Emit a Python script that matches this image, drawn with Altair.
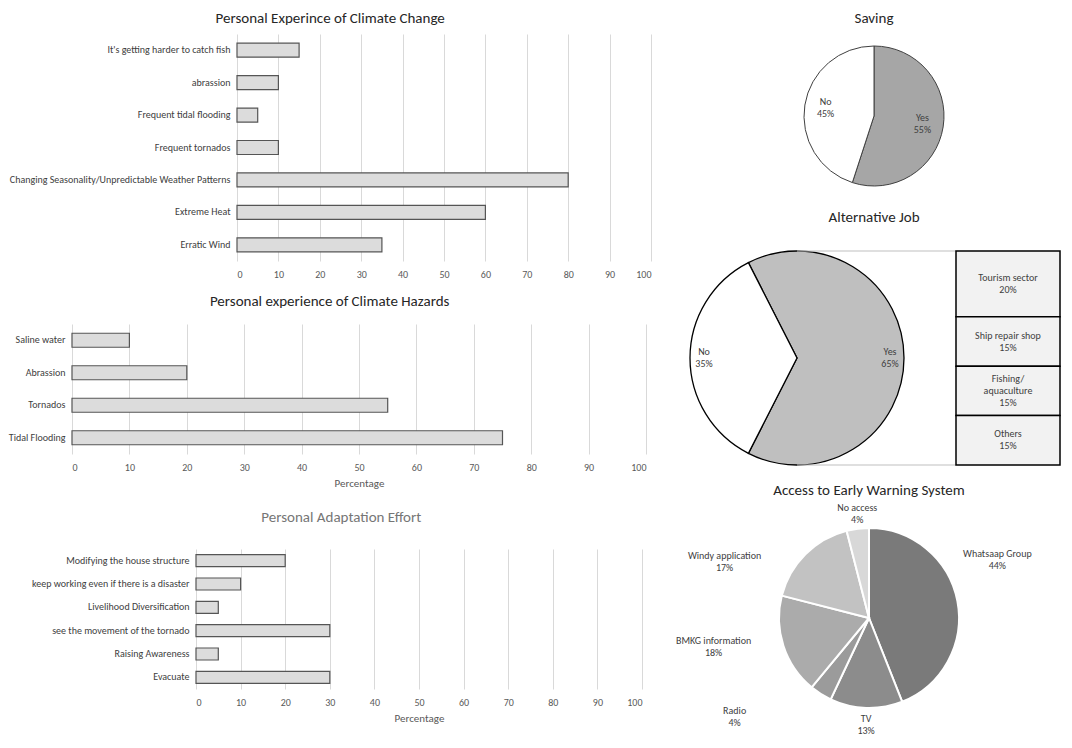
import math
import altair as alt
import pandas as pd

FONT = "Carlito, Liberation Sans Narrow, Lato, sans-serif"

# ---------------- data ----------------
cc_labels = ["It's getting harder to catch fish", "abrassion", "Frequent tidal flooding",
             "Frequent tornados", "Changing Seasonality/Unpredictable Weather Patterns",
             "Extreme Heat", "Erratic Wind"]
cc_values = [15, 10, 5, 10, 80, 60, 35]

hz_labels = ["Saline water", "Abrassion", "Tornados", "Tidal Flooding"]
hz_values = [10, 20, 55, 75]

ad_labels = ["Modifying the house structure", "keep working even if there is a disaster",
             "Livelihood Diversification", "see the movement of the tornado",
             "Raising Awareness", "Evacuate"]
ad_values = [20, 10, 5, 30, 5, 30]

pct_ticks = [0, 10, 20, 30, 40, 50, 60, 70, 80, 90, 100]

saving_labels = ["Yes", "No"]
saving_values = [55, 45]

job_labels = ["Yes", "No"]
job_values = [65, 35]

job_detail_labels = ["Tourism sector", "Ship repair shop", "Fishing/\naquaculture", "Others"]
job_detail_values = [20, 15, 15, 15]

ews_labels = ["Whatsaap Group", "TV", "Radio", "BMKG information", "Windy application", "No access"]
ews_values = [44, 13, 4, 18, 17, 4]

# ---------------- styles ----------------
BAR_FILL = "#dcdcdc"
BAR_STROKE = "#555555"
GRID = "#d9d9d9"
LABEL = "#404040"
TICKC = "#595959"
TITLEC = "#262626"
LEFT_W = 579
LH = 12


def ttl(text, offset, color=TITLEC, frame="bounds"):
    return alt.TitleParams(text=text, fontSize=15, font=FONT, color=color, fontWeight="normal",
                           anchor="middle", frame=frame, offset=offset)


def hbar(labels, values, title, rng, height, size, title_offset, title_color=TITLEC, axis_title=""):
    df = pd.DataFrame({"label": labels, "value": values})
    xa = dict(values=pct_ticks, grid=True, gridColor=GRID, gridWidth=1, domain=False, ticks=False,
              labelPadding=8, labelFontSize=10, labelColor=TICKC, labelFont=FONT)
    if axis_title:
        xa.update(title=axis_title, titleFontSize=11, titleFontWeight="normal", titleColor=TICKC,
                  titlePadding=5, titleFont=FONT)
    else:
        xa.update(title="")
    return alt.Chart(df).mark_bar(fill=BAR_FILL, stroke=BAR_STROKE, strokeWidth=1.2, size=size).encode(
        x=alt.X("value:Q", scale=alt.Scale(domain=[0, 100], range=rng), axis=alt.Axis(**xa)),
        y=alt.Y("label:N", sort=labels, title=None,
                axis=alt.Axis(domain=False, ticks=False, offset=-rng[0], labelPadding=7,
                              labelFontSize=10, labelColor=LABEL, labelLimit=400, labelFont=FONT)),
    ).properties(width=LEFT_W, height=height, title=ttl(title, title_offset, title_color))


p1 = hbar(cc_labels, cc_values, "Personal Experince of Climate Change", [165, 579], 227, 14, 8)
p2 = hbar(hz_labels, hz_values, "Personal experience of Climate Hazards", [0, 574], 130, 14, 15,
          axis_title="Percentage")
p3 = hbar(ad_labels, ad_values, "Personal Adaptation Effort", [124, 570], 140, 12, 24,
          title_color="#767676", axis_title="Percentage")

left = alt.vconcat(alt.vconcat(p1, p2, spacing=15), p3, spacing=22)


def pie_df(labels, values):
    texts = [f"{l}\n{v}%" for l, v in zip(labels, values)]
    return pd.DataFrame({"label": labels, "value": values, "idx": list(range(len(labels))),
                         "text": texts, "nl": [t.count("\n") + 1 for t in texts]})


def ml_text(base, df, encode_kw, baseline="middle", dy=0, **mark_kw):
    """one text layer per line count, shifted so the whole block sits on its anchor"""
    k = {"middle": 0.5, "bottom": 1.0, "top": 0.0}[baseline]
    out = []
    for n in sorted(set(df["nl"])):
        out.append(base.transform_filter(f"datum.nl == {n}").mark_text(
            baseline=baseline, lineBreak="\n", lineHeight=LH, fontSize=10, color=LABEL, font=FONT,
            dy=dy - (n - 1) * LH * k, **mark_kw).encode(**encode_kw))
    return out


# Saving
sdf = pie_df(saving_labels, saving_values)
s_base = alt.Chart(sdf).encode(theta=alt.Theta("value:Q", stack=True), order=alt.Order("idx:Q"))
s_arc = s_base.mark_arc(outerRadius=70, stroke="#404040", strokeWidth=1).encode(
    color=alt.Color("label:N", scale=alt.Scale(domain=saving_labels, range=["#a6a6a6", "#ffffff"]),
                    legend=None))
s_txt = s_base.mark_text(radius=49, fontSize=10, lineBreak="\n", lineHeight=LH, dy=-LH / 2,
                         color=LABEL, font=FONT).encode(text="text:N")
saving = alt.layer(s_arc, s_txt).properties(width=368, height=164, title=ttl("Saving", 8, frame="group"))

# Alternative job (bar of pie)
JOB_R = 107
GAP = 52
BOX_W = 104
jdf = pie_df(job_labels, job_values)
tot_job = sum(job_values)
start = (2 * math.pi * (0.75 - (job_values[0] + job_values[1] / 2) / tot_job)) % (2 * math.pi)
j_base = alt.Chart(jdf).encode(
    theta=alt.Theta("value:Q", stack=True, scale=alt.Scale(range=[start, start + 2 * math.pi])),
    order=alt.Order("idx:Q"))
j_arc = j_base.mark_arc(outerRadius=JOB_R, stroke="#000000", strokeWidth=1.3).encode(
    color=alt.Color("label:N", scale=alt.Scale(domain=job_labels, range=["#bfbfbf", "#ffffff"]),
                    legend=None))
j_txt = j_base.mark_text(radius=93, fontSize=10, lineBreak="\n", lineHeight=LH, dy=-LH / 2,
                         color=LABEL, font=FONT).encode(text="text:N")
job_pie = alt.layer(j_arc, j_txt).properties(width=2 * JOB_R, height=2 * JOB_R)

ddf = pie_df(job_detail_labels, job_detail_values)
tot_det = sum(job_detail_values)
yscale = alt.Scale(domain=[0, tot_det], reverse=True, nice=False)
d_base = alt.Chart(ddf).transform_window(
    end="sum(value)", sort=[alt.SortField("idx", order="ascending")]
).transform_calculate(start="datum.end - datum.value", mid="datum.end - datum.value / 2", col="'box'")
d_bar = d_base.mark_bar(fill="#f2f2f2", stroke="#000000", strokeWidth=1.5).encode(
    x=alt.X("col:N", axis=None, scale=alt.Scale(paddingInner=0, paddingOuter=0)),
    y=alt.Y("start:Q", scale=yscale, axis=None), y2="end:Q")
d_txt = ml_text(d_base, ddf, dict(x=alt.X("col:N", axis=None), y=alt.Y("mid:Q", scale=yscale, axis=None),
                                  text="text:N"))
edges = pd.DataFrame({"edge": [0, tot_det]})
d_rule = alt.Chart(edges).mark_rule(color="#bfbfbf", strokeWidth=1).encode(
    y=alt.Y("edge:Q", scale=yscale, axis=None), x=alt.value(-(JOB_R + GAP)), x2=alt.value(0))
box = alt.layer(d_rule, d_bar, *d_txt).properties(width=BOX_W, height=2 * JOB_R)

job = alt.hconcat(job_pie, box, spacing=GAP, bounds="flush").properties(
    title=ttl("Alternative Job", 23)).resolve_scale(color="independent")

# Early warning system
EWS_R = 90
LAB_R = 94
edf = pie_df(ews_labels, ews_values)
ews_colors = ["#7a7a7a", "#8c8c8c", "#9b9b9b", "#ababab", "#c2c2c2", "#d8d8d8"]
e_arc = alt.Chart(edf).mark_arc(outerRadius=EWS_R, stroke="#ffffff", strokeWidth=2).encode(
    theta=alt.Theta("value:Q", stack=True), order=alt.Order("idx:Q"),
    color=alt.Color("label:N", scale=alt.Scale(domain=ews_labels, range=ews_colors), legend=None))
e_lab = alt.Chart(edf).transform_window(
    cum="sum(value)", sort=[alt.SortField("idx", order="ascending")]
).transform_joinaggregate(tot="sum(value)").transform_calculate(
    mid="2 * PI * (datum.cum - datum.value / 2) / datum.tot",
).transform_calculate(h="sin(datum.mid)", v="cos(datum.mid)")
# label placement rules by side of the pie: (filter, baseline, dx, dy)
groups = [
    ("datum.h > 0.4", "middle", 36, -40),
    ("datum.h < -0.4 && abs(datum.v) < 0.5", "middle", -66, 0),
    ("datum.h < -0.4 && datum.v >= 0.5", "middle", -78, 10),
    ("datum.h < -0.4 && datum.v <= -0.5", "middle", -84, 20),
    ("abs(datum.h) <= 0.4 && datum.v > 0", "bottom", 0, 0),
    ("abs(datum.h) <= 0.4 && datum.v <= 0", "top", 0, 2),
]
e_layers = [e_arc]
for f, b, dx, dy in groups:
    e_layers += ml_text(e_lab.transform_filter(f), edf,
                        dict(theta=alt.Theta("mid:Q", scale=None), text="text:N"),
                        baseline=b, dy=dy, radius=LAB_R, align="center", dx=dx)
ews = alt.layer(*e_layers).properties(width=358, height=228,
                                      title=ttl("Access to Early Warning System", 5, frame="group"))

right = alt.vconcat(
    alt.vconcat(saving, job, spacing=12).resolve_scale(color="independent"),
    ews, spacing=14).resolve_scale(color="independent")

chart = alt.hconcat(left, right, spacing=24).resolve_scale(color="independent").properties(
    padding={"top": 3, "left": 0, "right": 0, "bottom": 0}, background="white"
).configure_view(strokeWidth=0).configure_axis(labelFont=FONT, titleFont=FONT).configure_text(
    font=FONT).configure_title(font=FONT)

chart.save("out.html", embed_options={"renderer": "svg", "actions": False})
